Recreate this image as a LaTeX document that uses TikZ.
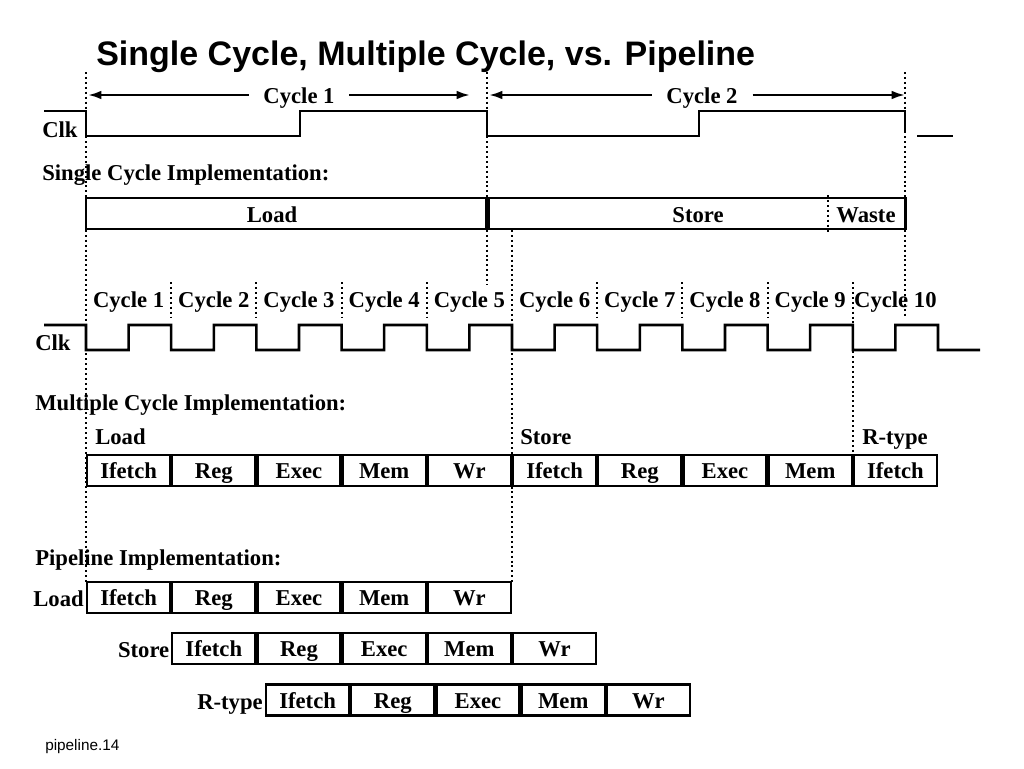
\documentclass[tikz,border=0pt]{standalone}
\usepackage{fontspec}
\setmainfont{Liberation Serif}
\newfontfamily\sansf{Liberation Sans}
\usetikzlibrary{arrows.meta}
\begin{document}
\begin{tikzpicture}[x=0.75pt,y=-0.75pt,
  txt/.style={inner sep=0pt, font=\fontsize{17}{20}\selectfont\bfseries},
  stagebox/.style={draw, line width=1.9pt, minimum width=62.4pt, minimum height=23.3pt,
    inner sep=0pt, font=\fontsize{17}{20}\selectfont\bfseries, text height=12.5pt, text depth=0pt},
  bigbox/.style={draw, line width=1.9pt, minimum height=23.3pt, inner sep=0pt},
  wave/.style={line width=1.9pt, line join=miter, line cap=butt},
  vdots/.style={line width=1.5pt, dash pattern=on 1.5pt off 2.2pt},
  dimarrow/.style={line width=1.8pt, -{Latex[length=10pt,width=6.5pt]}},
]
\useasboundingbox (0,0) rectangle (1024,768);

% title
\node[anchor=base west, inner sep=0pt, font=\sansf\fontsize{25.5}{30}\selectfont\bfseries] (title) at (96,65) {Single Cycle, Multiple Cycle, vs. Pipeline};

% ---------- long dotted lines ----------
\coordinate (d0t) at (86,72);   \coordinate (d0b) at (86,582);
\coordinate (d1t) at (487,72);  \coordinate (d1b) at (487,285);
\coordinate (d2t) at (905,72);  \coordinate (d2b) at (905,317);
\coordinate (d3t) at (512,230); \coordinate (d3b) at (512,582);
\coordinate (d4t) at (852.8,282); \coordinate (d4b) at (852.8,455);
\draw[vdots] (d0t) -- (d0b);
\draw[vdots] (d1t) -- (d1b);
\draw[vdots] (d2t) -- (d2b);
\draw[vdots] (d3t) -- (d3b);
\draw[vdots] (d4t) -- (d4b);
\foreach \i in {1,2,3,4,6,7,8} {
  \coordinate (s\i t) at ({86+85.2*\i},282);
  \coordinate (s\i b) at ({86+85.2*\i},318);
  \draw[vdots] (s\i t) -- (s\i b);
}

% ---------- single cycle ----------
\node[txt, anchor=base, inner xsep=11pt] (cyc1) at (299,103) {Cycle 1};
\node[txt, anchor=base, inner xsep=11pt] (cyc2) at (702,103) {Cycle 2};
\coordinate (c1l) at (88,95);  \coordinate (c1r) at (470,95);
\coordinate (c2l) at (489,95); \coordinate (c2r) at (905,95);
\draw[dimarrow] (cyc1.west |- c1l) -- (c1l);
\draw[dimarrow] (cyc1.east |- c1r) -- (c1r);
\draw[dimarrow] (cyc2.west |- c2l) -- (c2l);
\draw[dimarrow] (cyc2.east |- c2r) -- (c2r);

\node[txt, anchor=base west] (clk1) at (42,137) {Clk};
\draw[wave] (44,111) -- (86,111) -- (86,136) -- (300,136) -- (300,111) -- (487,111)
  -- (487,136) -- (699,136) -- (699,111) -- (905,111) -- (905,133);
\draw[wave] (917,136) -- (953,136);

\node[txt, anchor=base west] (simpl) at (42,180) {Single Cycle Implementation:};

\node[bigbox, minimum width=300pt] (sload) at (286,213.5) {};
\node[bigbox, minimum width=312.75pt] (sstore) at (697,213.5) {};
\node[txt, anchor=base] (sloadt) at (272,222) {Load};
\node[txt, anchor=base] (sstoret) at (698,222) {Store};
\node[txt, anchor=base] (wastet) at (866,222) {Waste};
\coordinate (wt) at (828,195); \coordinate (wb) at (828,232);
\draw[vdots] (wt) -- (wb);

% ---------- multiple cycle ----------
\foreach \i [evaluate=\i as \n using int(\i+1)] in {0,...,9} {
  \node[txt, anchor=base] (mc\n) at ({86+85.2*\i+42.6},307) {Cycle \n};
}
\node[txt, anchor=base west] (clk2) at (35,350) {Clk};
\draw[wave] (44,325) -- (86,325)
  \foreach \i in {0,...,9} {
    -- ({86+85.2*\i},350) -- ({86+85.2*\i+42.6},350) -- ({86+85.2*\i+42.6},325) -- ({86+85.2*(\i+1)},325)
  } -- (938,350) -- (980,350);

\node[txt, anchor=base west] (mimpl) at (35,410) {Multiple Cycle Implementation:};
\node[txt, anchor=base west] (mload) at (95,444) {Load};
\node[txt, anchor=base west] (mstore) at (520,444) {Store};
\node[txt, anchor=base west] (mrtype) at (862,444) {R-type};

\foreach \t [count=\k from 0] in {Ifetch,Reg,Exec,Mem,Wr,Ifetch,Reg,Exec,Mem,Ifetch} {
  \node[stagebox] (m\k) at ({86+85.2*\k+42.6},470.5) {\t};
}

% ---------- pipeline ----------
\node[txt, anchor=base west] (pimpl) at (35,565) {Pipeline Implementation:};

\foreach \t [count=\k from 0] in {Ifetch,Reg,Exec,Mem,Wr} {
  \node[stagebox] (pl\k) at ({86+85.2*\k+42.6},597.5) {\t};
  \node[stagebox] (ps\k) at ({171.2+85.2*\k+42.6},648.5) {\t};
  \node[stagebox] (pr\k) at ({265+85.2*\k+42.6},700) {\t};
}
\node[txt, anchor=base east] (plload) at (84,606) {Load};
\node[txt, anchor=base east] (plstore) at (169.5,657) {Store};
\node[txt, anchor=base east] (plrtype) at (263,709) {R-type};

\node[anchor=base west, inner sep=0pt, font=\sansf\fontsize{11.5}{13}\selectfont] (foot) at (45,750) {pipeline.14};
\end{tikzpicture}
\end{document}
